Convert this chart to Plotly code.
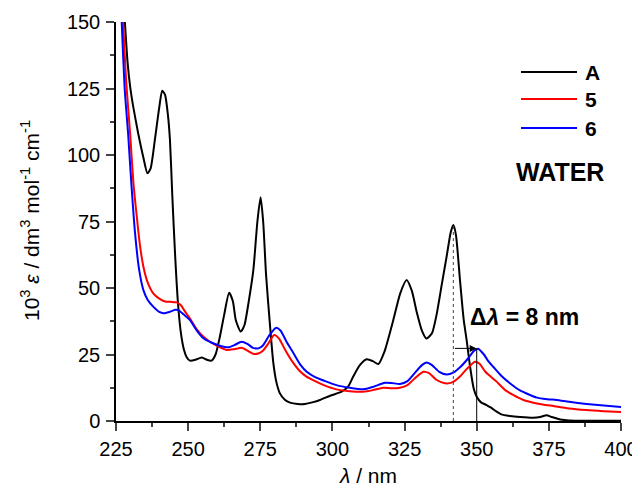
import plotly.graph_objects as go

# ---- data (wavelength nm, 10^3 epsilon) ----
a_x = [227.5, 228.1, 229.0, 229.9, 231.0, 232.7, 234.5, 235.9, 237.0, 238.5, 240.0, 241.0, 242.0, 243.0, 243.7,
       244.5, 245.5, 246.5, 247.5, 248.5, 249.5, 250.6, 252.5, 254.7, 256.5, 258.1, 259.5, 261.0, 262.5, 264.2,
       265.5, 266.5, 268.2, 269.5, 271.0, 272.6, 274.0, 275.1, 276.0, 277.0, 278.4, 279.5, 280.5, 281.8, 283.5,
       285.3, 288.0, 290.5, 293.0, 295.7, 299.2, 303.2, 305.5, 307.2, 309.5, 311.9, 314.0, 315.9, 318.0, 321.1,
       323.5, 325.7, 327.5, 329.2, 331.0, 332.6, 334.5, 336.1, 338.0, 339.6, 341.0, 341.9, 342.8, 344.2, 345.5,
       346.5, 347.7, 349.0, 350.0, 351.5, 353.4, 355.0, 356.9, 358.5, 361.5, 365.0, 369.5, 372.0, 374.2, 376.0,
       378.9, 382.0, 390.0, 400.0]
a_y = [160, 149.5, 135, 125.7, 118, 108.1, 99, 93.1, 95, 106, 118, 124.2, 122.6, 115, 105.6,
       85, 62, 44, 33, 27, 24, 22.7, 23, 23.9, 23, 22.7, 25, 31.7, 40, 48.2,
       45, 38, 33.6, 36, 45, 56.8, 75, 84.1, 75, 55, 35.5, 22, 15, 10.4, 8,
       6.9, 6.4, 6.4, 7, 7.9, 9.5, 11, 13, 16.7, 21, 23.2, 22.5, 21.4, 26, 38,
       48, 53, 49, 41, 34, 31, 33, 40, 52, 62, 71, 73.7, 70, 53, 38,
       30.5, 20.4, 12, 9.1, 7, 6, 5, 3.5, 2.5, 1.9, 1.5, 1.2, 1.5, 2.2, 1.5,
       0.6, 0.2, 0.1, 0.05]

c5_x = [227.0, 227.5, 228.5, 229.9, 231.0, 232.2, 233.3, 234.5, 236.0, 237.9, 240.0, 242.0, 244.0, 246.0, 247.5,
        249.0, 250.6, 253.0, 255.3, 258.0, 260.5, 263.3, 266.0, 268.5, 270.5, 272.5, 274.3, 276.0, 278.0, 279.8,
        281.5, 283.5, 286.0, 288.5, 291.0, 294.0, 297.0, 301.4, 306.0, 310.7, 314.0, 317.6, 320.5, 323.4, 326.0,
        328.5, 331.5, 333.5, 336.0, 339.0, 341.5, 344.0, 346.5, 349.4, 351.0, 353.0, 356.9, 360.0, 362.6, 366.0,
        370.8, 376.6, 382.0, 388.0, 394.0, 400.0]
c5_y = [165, 149.5, 128, 108, 90, 76.8, 66, 58, 52, 48, 46, 44.9, 44.8, 44.6, 43.5,
        41, 38.6, 34.5, 31.7, 29.5, 28, 26.7, 27, 27.5, 26.5, 25.3, 25.4, 26.5, 29.5, 32.3,
        31, 27, 22.5, 19, 16.7, 15, 13.5, 11.9, 11.2, 11, 11.6, 12.5, 12.3, 12.5, 13.5,
        16, 18.5, 18, 15.5, 14.2, 14.5, 16.5, 19.5, 22.3, 21.5, 18.5, 14.8, 11.5, 9.8, 8,
        6.6, 5.6, 4.7, 4.1, 3.7, 3.4]

c6_x = [226.5, 227.0, 228.0, 229.2, 230.4, 231.6, 233.0, 234.5, 236.0, 237.9, 240.0, 241.4, 243.5, 245.5, 246.6,
        248.5, 250.6, 253.0, 255.3, 258.0, 261.0, 263.9, 266.0, 268.5, 270.5, 272.5, 274.3, 276.0, 278.0, 280.4,
        282.0, 284.0, 286.5, 289.0, 291.1, 294.0, 297.5, 301.4, 306.0, 310.7, 314.0, 318.2, 320.5, 323.4, 326.0,
        328.5, 331.0, 332.6, 334.5, 337.0, 339.6, 342.0, 344.5, 347.0, 349.0, 350.5, 352.5, 354.0, 355.7, 358.5,
        361.5, 365.0, 370.8, 374.5, 377.7, 382.0, 388.1, 394.0, 400.0]
c6_y = [165, 149.5, 125, 108, 88, 70.6, 57, 49.2, 45.5, 43, 41, 40.5, 41, 41.8, 41.7,
        40, 38, 34, 31.1, 29.5, 28.3, 27.7, 28.5, 29.8, 29, 27.5, 27.3, 28.5, 32, 35,
        34, 30, 25.5, 21, 18.5, 16.5, 15, 13.5, 12.5, 11.9, 12.8, 14.4, 14.3, 13.9, 15,
        18, 21, 22, 21, 18.5, 17.5, 18.3, 20.5, 23.5, 26.3, 27.2, 25, 22.5, 20.4, 17,
        14.2, 11.5, 8.8, 8.2, 7.9, 7.2, 6.4, 5.8, 5.3]

series_names = ["A", "5", "6"]
series_colors = ["#000000", "#FF0000", "#0000FF"]

peak_A = 341.9      # nm, peak of A
peak_A_eps = 73.7
peak_6 = 350.0      # nm, peak of 6
peak_6_eps = 27.3
shift_label = "Δ<i>λ</i> = 8 nm"

x_ticks = [225, 250, 275, 300, 325, 350, 375, 400]
y_ticks = [0, 25, 50, 75, 100, 125, 150]

FONT = "Liberation Sans, Arial, sans-serif"

# page body has an 8px margin: size the figure so that it fills the window
OFF = 8
W, H = 640 - OFF, 492 - OFF
L, R, T, B = 116 - OFF, 19, 22 - OFF, 71
pw, ph = W - L - R, H - T - B


def px2paper(px, py):
    # screen pixel -> paper coordinate
    return (px - OFF - L) / pw, (H - B - (py - OFF)) / ph


fig = go.Figure()
for xs, ys, name, col in zip([a_x, c5_x, c6_x], [a_y, c5_y, c6_y], series_names, series_colors):
    fig.add_trace(go.Scatter(x=xs, y=ys, mode="lines", name=name,
                             line=dict(color=col, width=2, shape="spline", smoothing=0.6),
                             showlegend=False))

# marker lines for the shift
fig.add_trace(go.Scatter(x=[peak_A, peak_A], y=[0, peak_A_eps], mode="lines",
                         line=dict(color="#444444", width=1, dash="dot"), showlegend=False))
fig.add_trace(go.Scatter(x=[peak_6, peak_6], y=[0, peak_6_eps], mode="lines",
                         line=dict(color="#000000", width=1), showlegend=False))

tx, ty = px2paper(368, 475)
yx, yy_ = px2paper(30, 221)
wx, wy = px2paper(560, 172)

annotations = [
    dict(x=peak_6, y=peak_6_eps, ax=peak_A, ay=peak_6_eps, xref="x", yref="y", axref="x", ayref="y",
         showarrow=True, arrowhead=2, arrowsize=1.4, arrowwidth=1, arrowcolor="#000000", text="", standoff=0),
    dict(x=366.5, y=39.0, xref="x", yref="y", text="<b>" + shift_label + "</b>", showarrow=False,
         xanchor="center", yanchor="middle", font=dict(family=FONT, size=23, color="#000000")),
    dict(x=tx, y=ty, xref="paper", yref="paper", text="<i>λ</i> / nm", showarrow=False,
         xanchor="center", yanchor="middle", font=dict(family=FONT, size=21, color="#000000")),
    dict(x=yx, y=yy_, xref="paper", yref="paper",
         text="10<sup>3</sup> <i>ε</i> / dm<sup>3</sup> mol<sup>-1</sup> cm<sup>-1</sup>",
         showarrow=False, textangle=-90, xanchor="center", yanchor="middle",
         font=dict(family=FONT, size=21, color="#000000")),
    dict(x=wx, y=wy, xref="paper", yref="paper", text="<b>WATER</b>", showarrow=False,
         xanchor="center", yanchor="middle", font=dict(family=FONT, size=25, color="#000000")),
]

shapes = []
legend_py = [72, 99, 128]
for name, col, py in zip(series_names, series_colors, legend_py):
    x0, ly = px2paper(521, py)
    x1, _ = px2paper(577, py)
    shapes.append(dict(type="line", xref="paper", yref="paper", x0=x0, x1=x1, y0=ly, y1=ly,
                       line=dict(color=col, width=2)))
    lx, _ = px2paper(583, py)
    annotations.append(dict(x=lx, y=ly, xref="paper", yref="paper", text="<b>" + name + "</b>",
                            showarrow=False, xanchor="left", yanchor="middle",
                            font=dict(family=FONT, size=21, color="#000000")))

fig.update_layout(
    width=W, height=H,
    margin=dict(l=L, r=R, t=T, b=B, pad=0),
    paper_bgcolor="white", plot_bgcolor="white",
    font=dict(family=FONT, size=20, color="#000000"),
    annotations=annotations, shapes=shapes,
    xaxis=dict(range=[225, 400], tickvals=x_ticks, ticks="outside", ticklen=8, tickwidth=1.5,
               showline=True, linecolor="black", linewidth=1.5, showgrid=False, zeroline=False,
               tickfont=dict(family=FONT, size=20), mirror=False, automargin=False,
               ticklabelstandoff=1,
               minor=dict(ticks="outside", ticklen=4, tickwidth=1.5, dtick=12.5, tick0=225, showgrid=False)),
    yaxis=dict(range=[0, 150], tickvals=y_ticks, ticks="outside", ticklen=8, tickwidth=1.5,
               showline=True, linecolor="black", linewidth=1.5, showgrid=False, zeroline=False,
               tickfont=dict(family=FONT, size=20), mirror=False, automargin=False,
               ticklabelstandoff=2,
               minor=dict(ticks="outside", ticklen=4, tickwidth=1.5, dtick=12.5, tick0=0, showgrid=False)),
)

fig.write_html("out.html")
